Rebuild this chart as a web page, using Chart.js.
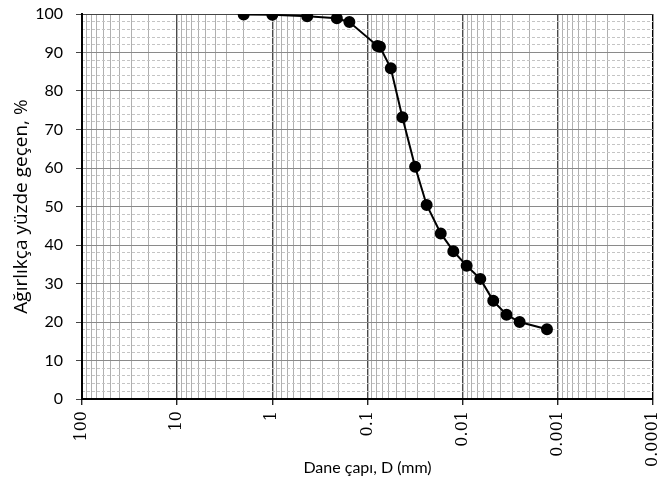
<!DOCTYPE html>
<html>
<head>
<meta charset="utf-8">
<script src="https://cdn.jsdelivr.net/npm/chart.js@4.4.1/dist/chart.umd.min.js"></script>
<style>
html,body{margin:0;padding:0;background:#fff;}
#wrap{width:660px;height:487px;}
</style>
</head>
<body>
<div id="wrap"><canvas id="c" width="660" height="487"></canvas></div>
<script>
// Grain diameter (mm) and percent passing
const diameters = [2.0, 1.0, 0.43, 0.21, 0.155, 0.0785, 0.074, 0.0569, 0.043, 0.0316, 0.0239, 0.0170, 0.01254, 0.00908, 0.00653, 0.00477, 0.00346, 0.00252, 0.0013];
const passing   = [99.9, 99.8, 99.4, 98.9, 97.9, 91.7, 91.5, 85.9, 73.2, 60.3, 50.4, 43.0, 38.4, 34.6, 31.2, 25.5, 21.9, 20.0, 18.1];

// Tick labels
const xDecades = [100, 10, 1, 0.1, 0.01, 0.001, 0.0001];
const xTickLabels = ["100", "10", "1", "0.1", "0.01", "0.001", "0.0001"];
const yTicks = [0, 10, 20, 30, 40, 50, 60, 70, 80, 90, 100];

const xTitle = "Dane çapı, D (mm)";
const yTitle = "Ağırlıkça yüzde geçen, %";

const points = diameters.map((d, i) => ({x: d, y: passing[i]}));

function isDecade(v) {
  return xDecades.some(d => Math.abs(v - d) / d < 1e-6);
}
function decadeLabel(v) {
  for (let i = 0; i < xDecades.length; i++) {
    if (Math.abs(v - xDecades[i]) / xDecades[i] < 1e-6) return xTickLabels[i];
  }
  return '';
}

new Chart(document.getElementById('c'), {
  type: 'line',
  data: {
    datasets: [{
      data: points,
      borderColor: '#000',
      backgroundColor: '#000',
      borderWidth: 2,
      pointRadius: 5,
      pointHoverRadius: 5,
      pointBackgroundColor: '#000',
      pointBorderColor: '#000',
      tension: 0,
      fill: false
    }]
  },
  options: {
    responsive: false,
    animation: false,
    events: [],
    layout: {padding: {left: 0, right: 5, top: 14, bottom: 0}},
    plugins: {
      legend: {display: false},
      tooltip: {enabled: false},
      title: {display: false}
    },
    scales: {
      x: {
        type: 'logarithmic',
        reverse: true,
        min: 0.0001,
        max: 100,
        afterBuildTicks: (scale) => {
          const t = [];
          for (let e = -4; e <= 1; e++) {
            for (let m = 1; m <= 9; m++) {
              t.push({value: m * Math.pow(10, e)});
            }
          }
          t.push({value: 100});
          scale.ticks = t;
        },
        afterFit: (scale) => {
          scale.height = 88;
          scale.paddingLeft = 0;
          scale.paddingRight = 0;
        },
        ticks: {
          autoSkip: false,
          minRotation: 90,
          maxRotation: 90,
          padding: 6,
          color: '#000',
          font: {family: 'DejaVu Serif', size: 16},
          callback: (v) => decadeLabel(v)
        },
        grid: {
          color: (ctx) => {
            const v = ctx.tick ? ctx.tick.value : 0;
            if (Math.abs(v - 0.0001) < 1e-9) return '#000';
            return isDecade(v) ? '#4a4a4a' : '#b0b0b0';
          },
          lineWidth: (ctx) => {
            const v = ctx.tick ? ctx.tick.value : 0;
            return isDecade(v) ? 1.4 : 1;
          },
          tickColor: (ctx) => {
            const v = ctx.tick ? ctx.tick.value : 0;
            return isDecade(v) ? '#222' : 'rgba(0,0,0,0)';
          },
          tickLength: 6,
          drawTicks: true
        },
        border: {display: true, color: '#000', width: 2},
        title: {
          display: true,
          text: xTitle,
          color: '#000',
          font: {family: 'Lato', size: 16},
          padding: {top: 0, bottom: 10}
        }
      },
      y2: {
        type: 'linear',
        position: 'left',
        min: 0,
        max: 100,
        afterFit: (scale) => { scale.width = 0; scale.paddingTop = 0; scale.paddingBottom = 0; },
        ticks: {display: false, stepSize: 2},
        grid: {
          color: (ctx) => {
            const v = ctx.tick ? ctx.tick.value : 0;
            return (Math.round(v) % 10 === 0) ? 'rgba(0,0,0,0)' : '#c4c4c4';
          },
          drawTicks: false,
          lineWidth: 1
        },
        border: {display: false, dash: [3, 2]}
      },
      y: {
        type: 'linear',
        position: 'left',
        min: 0,
        max: 100,
        afterBuildTicks: (scale) => {
          scale.ticks = yTicks.map(v => ({value: v}));
        },
        afterFit: (scale) => { scale.width = 82; scale.paddingTop = 0; scale.paddingBottom = 0; },
        ticks: {
          padding: 13,
          color: '#000',
          font: {family: 'Lato', size: 16},
          callback: (v) => String(v)
        },
        grid: {
          color: (ctx) => {
            const v = ctx.tick ? ctx.tick.value : 0;
            return v === 100 ? '#444' : '#8a8a8a';
          },
          lineWidth: 1,
          tickColor: '#444',
          tickLength: 6
        },
        border: {display: true, color: '#000', width: 2},
        title: {
          display: true,
          text: yTitle,
          color: '#000',
          font: {family: 'Open Sans', size: 19},
          padding: {top: 10, bottom: 0}
        }
      }
    }
  }
});
</script>
</body>
</html>
